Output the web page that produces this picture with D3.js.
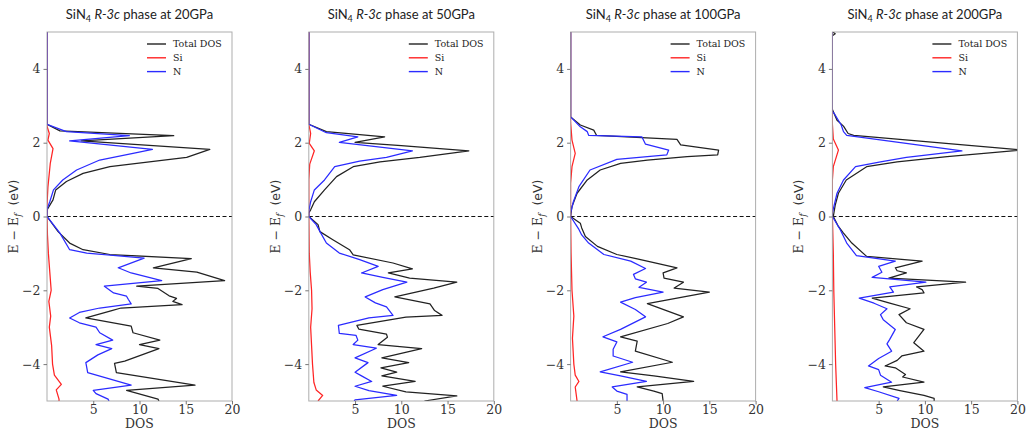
<!DOCTYPE html>
<html><head><meta charset="utf-8">
<script src="https://cdn.jsdelivr.net/npm/d3@7"></script>
<style>
html,body{margin:0;padding:0;background:#fff;}
svg{display:block;}
</style></head>
<body>
<svg id="c" width="1027" height="434"></svg>
<script>
// ---------- data: [energy (eV), DOS] ----------
const pressures = ["20GPa", "50GPa", "100GPa", "200GPa"];
const yTicks = [-4, -2, 0, 2, 4];
const xTicks = [5, 10, 15, 20];
const legendLabels = ["Total DOS", "Si", "N"];

const total20 = [[5,0],[2.5,0],[2.32,1.4],[2.19,13.7],[2.05,3.7],[1.82,17.6],[1.6,15.1],[1.35,6.8],[1.17,3.9],[0.95,2.1],[0.72,0.94],[0.45,0.65],[0.2,0.05],[0,0],[-0.41,1.2],[-0.72,2.45],[-0.9,3.9],[-1.03,6.8],[-1.14,15.6],[-1.39,11.5],[-1.51,16.2],[-1.74,19.2],[-1.89,9.7],[-1.95,12.0],[-2.15,13.2],[-2.22,14.0],[-2.3,13.6],[-2.39,14.6],[-2.48,8.0],[-2.55,7.0],[-2.75,4.2],[-2.97,9.1],[-3.15,9.3],[-3.35,12.2],[-3.47,10.0],[-3.58,12.1],[-3.92,8.4],[-3.98,7.3],[-4.23,7.5],[-4.57,16.0],[-4.71,8.6],[-4.95,12.0],[-5,12.1]];
const n20 = [[5,0],[2.5,0],[2.3,2.1],[2.19,8.9],[2.05,2.45],[1.82,11.4],[1.71,9.3],[1.53,5.7],[1.26,3.2],[0.99,1.7],[0.72,0.7],[0.4,0.3],[0.2,0],[0,0],[-0.45,1.4],[-0.9,2.45],[-0.99,4.3],[-1.13,10.5],[-1.39,7.7],[-1.53,9.1],[-1.74,12.4],[-1.89,6.2],[-2.07,7.2],[-2.16,8.6],[-2.25,8.8],[-2.37,9.1],[-2.48,5.7],[-2.6,3.5],[-2.75,2.45],[-2.88,3.5],[-3.0,5.3],[-3.15,5.7],[-3.35,7.1],[-3.47,5.3],[-3.58,7.0],[-3.75,5.5],[-3.96,4.2],[-4.23,4.4],[-4.57,9.1],[-4.71,5.0],[-4.8,5.3],[-4.95,6.6],[-5,6.7]];
const si20 = [[5,0],[2.45,0],[2.25,0.25],[2.07,0.1],[1.84,0.65],[1.43,0.35],[0.8,0.1],[0.3,0],[0,0],[-0.5,0.05],[-1.0,0.15],[-1.5,0.3],[-2.0,0.45],[-2.3,0.2],[-2.7,0.4],[-3.0,0.25],[-3.5,0.5],[-4.0,0.6],[-4.3,0.8],[-4.55,1.55],[-4.7,1.0],[-4.95,1.3],[-5,1.3]];

const total50 = [[5,0],[2.5,0],[2.3,1.9],[2.16,8.2],[2.01,5.0],[1.92,10],[1.78,17.3],[1.6,12.0],[1.48,7.7],[1.35,4.8],[1.08,3.0],[0.72,1.7],[0.4,0.6],[0.18,0.2],[0.1,0],[0,0],[-0.22,1.0],[-0.41,1.2],[-0.63,2.6],[-0.9,4.4],[-1.04,4.8],[-1.26,9.1],[-1.42,11.2],[-1.53,8.6],[-1.67,10.9],[-1.78,16.0],[-1.94,13.5],[-2.18,9.3],[-2.37,13.1],[-2.55,13.6],[-2.68,14.4],[-2.73,10.5],[-2.95,5.2],[-3.05,5.4],[-3.19,8.4],[-3.27,8.5],[-3.47,7.5],[-3.58,12.2],[-3.83,7.9],[-3.96,10.8],[-4.1,7.8],[-4.22,9.5],[-4.32,7.9],[-4.47,11.5],[-4.6,8.0],[-4.75,10.5],[-4.86,16.0],[-5,12.5]];
const n50 = [[5,0],[2.5,0],[2.27,1.9],[2.16,5.3],[2.01,3.3],[1.78,11.2],[1.6,8.4],[1.5,5.5],[1.35,2.8],[0.99,1.7],[0.72,0.6],[0.4,0.2],[0.15,0],[0,0],[-0.22,0.8],[-0.45,1.3],[-0.72,1.9],[-0.99,3.3],[-1.17,5.5],[-1.35,7.5],[-1.53,5.7],[-1.65,8.0],[-1.78,10.6],[-1.98,8.0],[-2.18,6.1],[-2.34,7.2],[-2.45,8.4],[-2.68,9.1],[-2.75,6.5],[-2.95,3.2],[-3.17,3.3],[-3.22,5.1],[-3.35,5.3],[-3.47,4.8],[-3.57,7.3],[-3.83,5.0],[-3.96,6.4],[-4.22,5.0],[-4.32,5.7],[-4.47,6.8],[-4.6,5.0],[-4.72,6.5],[-4.85,9.5],[-4.97,5.0],[-5,4.9]];
const si50 = [[5,0],[2.5,0],[2.25,0.2],[1.98,0.05],[1.78,0.6],[1.42,0.1],[1.0,0],[0,0],[-1.0,0.05],[-1.5,0.15],[-2.0,0.3],[-2.5,0.35],[-3.0,0.2],[-3.5,0.3],[-4.0,0.4],[-4.5,0.55],[-4.7,0.8],[-4.85,1.5],[-5,1.0]];

const total100 = [[5,0],[2.7,0],[2.48,1.05],[2.34,2.5],[2.2,2.8],[2.09,11.5],[1.94,11.9],[1.8,16.0],[1.67,15.9],[1.62,12.6],[1.53,8.3],[1.44,5.4],[1.26,3.2],[0.99,1.8],[0.63,0.7],[0.27,0.15],[0,0],[-0.18,1.05],[-0.31,1.2],[-0.54,1.6],[-0.81,2.9],[-1.03,5.0],[-1.15,7.2],[-1.25,9.0],[-1.39,11.5],[-1.53,10.0],[-1.67,10.1],[-1.78,12.2],[-1.94,11.2],[-2.05,15.0],[-2.36,8.3],[-2.72,12.2],[-2.9,10.5],[-3.26,5.4],[-3.38,7.2],[-3.65,7.0],[-3.95,11.0],[-4.21,5.4],[-4.32,9.0],[-4.47,13.3],[-4.62,7.2],[-4.73,9.0],[-4.8,9.9],[-5,10.0]];
const n100 = [[5,0],[2.7,0],[2.43,1.05],[2.3,1.8],[2.2,1.95],[2.16,7.7],[1.96,8.1],[1.8,10.6],[1.67,10.4],[1.55,5.0],[1.26,2.1],[0.81,0.9],[0.4,0.3],[0.1,0],[0,0],[-0.35,0.9],[-0.5,1.2],[-0.72,1.95],[-1.03,3.6],[-1.21,6.5],[-1.41,8.1],[-1.57,6.8],[-1.69,7.0],[-1.78,8.2],[-1.92,7.4],[-2.05,10.0],[-2.2,7.0],[-2.32,5.4],[-2.52,7.0],[-2.72,8.1],[-3.06,5.4],[-3.26,3.5],[-3.4,5.0],[-3.6,4.6],[-3.78,4.6],[-3.95,6.7],[-4.21,3.2],[-4.32,5.4],[-4.47,8.2],[-4.62,4.5],[-4.73,5.0],[-4.82,6.1],[-5,6.1]];
const si100 = [[5,0],[2.55,0],[2.07,0.15],[1.71,0.5],[1.35,0.15],[0.9,0],[0,0],[-1,0.05],[-2,0.15],[-2.7,0.35],[-3.3,0.2],[-4.0,0.35],[-4.3,0.5],[-4.47,0.9],[-4.62,0.5],[-5,0.7]];

const total200 = [[5,0.05],[4.95,0.3],[4.9,0],[2.9,0],[2.61,0.5],[2.45,1.2],[2.25,1.7],[2.2,2.3],[1.8,20.5],[1.62,12.4],[1.48,7.0],[1.35,3.7],[0.99,1.5],[0.63,0.65],[0.3,0.3],[0,0.1],[-0.27,0.65],[-0.45,1.2],[-0.72,2.1],[-1.08,3.7],[-1.21,9.7],[-1.39,6.8],[-1.47,7.0],[-1.53,8.0],[-1.67,6.1],[-1.78,14.4],[-1.91,9.1],[-1.98,9.7],[-2.07,9.9],[-2.21,4.3],[-2.35,6.2],[-2.5,8.4],[-2.66,7.2],[-2.88,8.0],[-3.06,9.9],[-3.42,8.8],[-3.65,9.9],[-3.78,7.5],[-3.9,7.0],[-4.05,5.7],[-4.1,6.8],[-4.28,7.9],[-4.35,7.6],[-4.49,9.9],[-4.62,5.5],[-4.72,7.3],[-4.85,9.9],[-4.93,11.0],[-5,11.0]];
const n200 = [[5,0],[2.85,0],[2.79,0.2],[2.48,0.95],[2.3,1.2],[2.2,1.55],[1.78,14.0],[1.6,8.0],[1.48,5.2],[1.35,2.5],[0.99,1.2],[0.63,0.5],[0.1,0],[0,0],[-0.36,0.85],[-0.72,1.55],[-1.06,2.6],[-1.21,6.8],[-1.35,5.0],[-1.51,5.35],[-1.65,4.3],[-1.78,10.1],[-1.91,6.2],[-2.05,6.6],[-2.21,2.9],[-2.35,4.5],[-2.5,5.9],[-2.66,5.2],[-2.8,5.5],[-3.06,6.8],[-3.33,6.2],[-3.45,5.9],[-3.65,6.4],[-3.85,5.0],[-4.05,3.9],[-4.15,5.0],[-4.3,5.2],[-4.49,6.4],[-4.64,3.5],[-4.75,5.0],[-4.93,7.2],[-5,7.0]];
const si200 = [[5,0],[2.5,0],[2.1,0.1],[1.8,0.65],[1.35,0.1],[1.0,0],[0,0],[-1,0.1],[-2,0.15],[-3,0.25],[-4,0.35],[-5,0.5]];

const totals = [total20, total50, total100, total200];
const siSeries = [si20, si50, si100, si200];
const nSeries = [n20, n50, n100, n200];

// ---------- layout ----------
const svg = d3.select("#c");
const panelW = 185, plotTop = 32, plotBottom = 401, step = 261.8, firstLeft = 47;
const colors = {total: "#222222", si: "#ff2424", n: "#2b2bff"};
const serif = "'DejaVu Serif', serif";

pressures.forEach((p, i) => {
  const left = firstLeft + i * step;
  const x = d3.scaleLinear().domain([0, 20]).range([left, left + panelW]);
  const y = d3.scaleLinear().domain([-5, 5]).range([plotBottom, plotTop]);
  const g = svg.append("g");

  const clipId = "clip" + i;
  svg.append("clipPath").attr("id", clipId).append("rect")
    .attr("x", left).attr("y", plotTop).attr("width", panelW).attr("height", plotBottom - plotTop);

  // title
  const t = g.append("text").attr("x", left + panelW / 2).attr("y", 19)
    .attr("text-anchor", "middle").attr("font-family", "Lato, 'Open Sans', sans-serif")
    .attr("font-size", 13).attr("fill", "#222");
  t.append("tspan").text("SiN");
  t.append("tspan").attr("font-size", 9).attr("dy", 3).text("4");
  t.append("tspan").attr("dy", -3).text(" ");
  t.append("tspan").attr("font-style", "italic").text("R-3c");
  t.append("tspan").text(" phase at " + p);

  // zero line
  g.append("line").attr("x1", left).attr("x2", left + panelW)
    .attr("y1", y(0)).attr("y2", y(0))
    .attr("stroke", "#111").attr("stroke-width", 1).attr("stroke-dasharray", "4,2.5");

  const line = d3.line().x(d => x(d[1])).y(d => y(d[0]));
  const lg = g.append("g").attr("clip-path", `url(#${clipId})`);
  [[totals[i], colors.total], [siSeries[i], colors.si], [nSeries[i], colors.n]].forEach(([data, c]) => {
    lg.append("path").datum(data).attr("d", line).attr("fill", "none")
      .attr("stroke", c).attr("stroke-width", 1.25).attr("stroke-linejoin", "round");
  });

  // frame
  g.append("rect").attr("x", left).attr("y", plotTop).attr("width", panelW).attr("height", plotBottom - plotTop)
    .attr("fill", "none").attr("stroke", "#9a9a9a").attr("stroke-width", 1).attr("stroke-opacity", 0.8);

  // y axis
  const ya = d3.axisLeft(y).tickValues(yTicks).tickSize(3.5).tickPadding(3)
    .tickFormat(d => d < 0 ? "\u2212" + Math.abs(d) : String(d));
  const yg = g.append("g").attr("transform", `translate(${left},0)`).call(ya);
  yg.select(".domain").remove();
  yg.selectAll(".tick line").attr("stroke", "#777");
  yg.selectAll(".tick text").attr("font-family", serif).attr("font-size", 12.5).attr("fill", "#333");

  // x axis
  const xa = d3.axisBottom(x).tickValues(xTicks).tickSize(3.5).tickPadding(1);
  const xg = g.append("g").attr("transform", `translate(0,${plotBottom})`).call(xa);
  xg.select(".domain").remove();
  xg.selectAll(".tick line").attr("stroke", "#777");
  xg.selectAll(".tick text").attr("font-family", serif).attr("font-size", 12.5).attr("fill", "#333");

  // x label
  g.append("text").attr("x", left + panelW / 2).attr("y", 428).attr("text-anchor", "middle")
    .attr("font-family", serif).attr("font-size", 12.5).attr("fill", "#333").text("DOS");

  // y label
  const yl = g.append("text").attr("transform", `translate(${left - 29},${(plotTop + plotBottom) / 2}) rotate(-90)`)
    .attr("text-anchor", "middle").attr("font-size", 12.5).attr("fill", "#333");
  yl.append("tspan").attr("font-family", serif).text("E \u2212 E");
  yl.append("tspan").attr("font-family", serif).attr("font-style", "italic").attr("font-size", 9).attr("dy", 3).text("f");
  yl.append("tspan").attr("font-family", "'DejaVu Sans', sans-serif").attr("dy", -3).text("\u00a0\u00a0(eV)");

  // legend
  const lcol = [colors.total, colors.si, colors.n];
  legendLabels.forEach((lab, k) => {
    const ly = 44 + k * 13.8;
    g.append("line").attr("x1", left + 100).attr("x2", left + 119).attr("y1", ly).attr("y2", ly)
      .attr("stroke", lcol[k]).attr("stroke-width", 1.4);
    g.append("text").attr("x", left + 126).attr("y", ly + 3.3).attr("font-family", serif)
      .attr("font-size", 9.5).attr("fill", "#222").text(lab);
  });
});
</script>
</body></html>
